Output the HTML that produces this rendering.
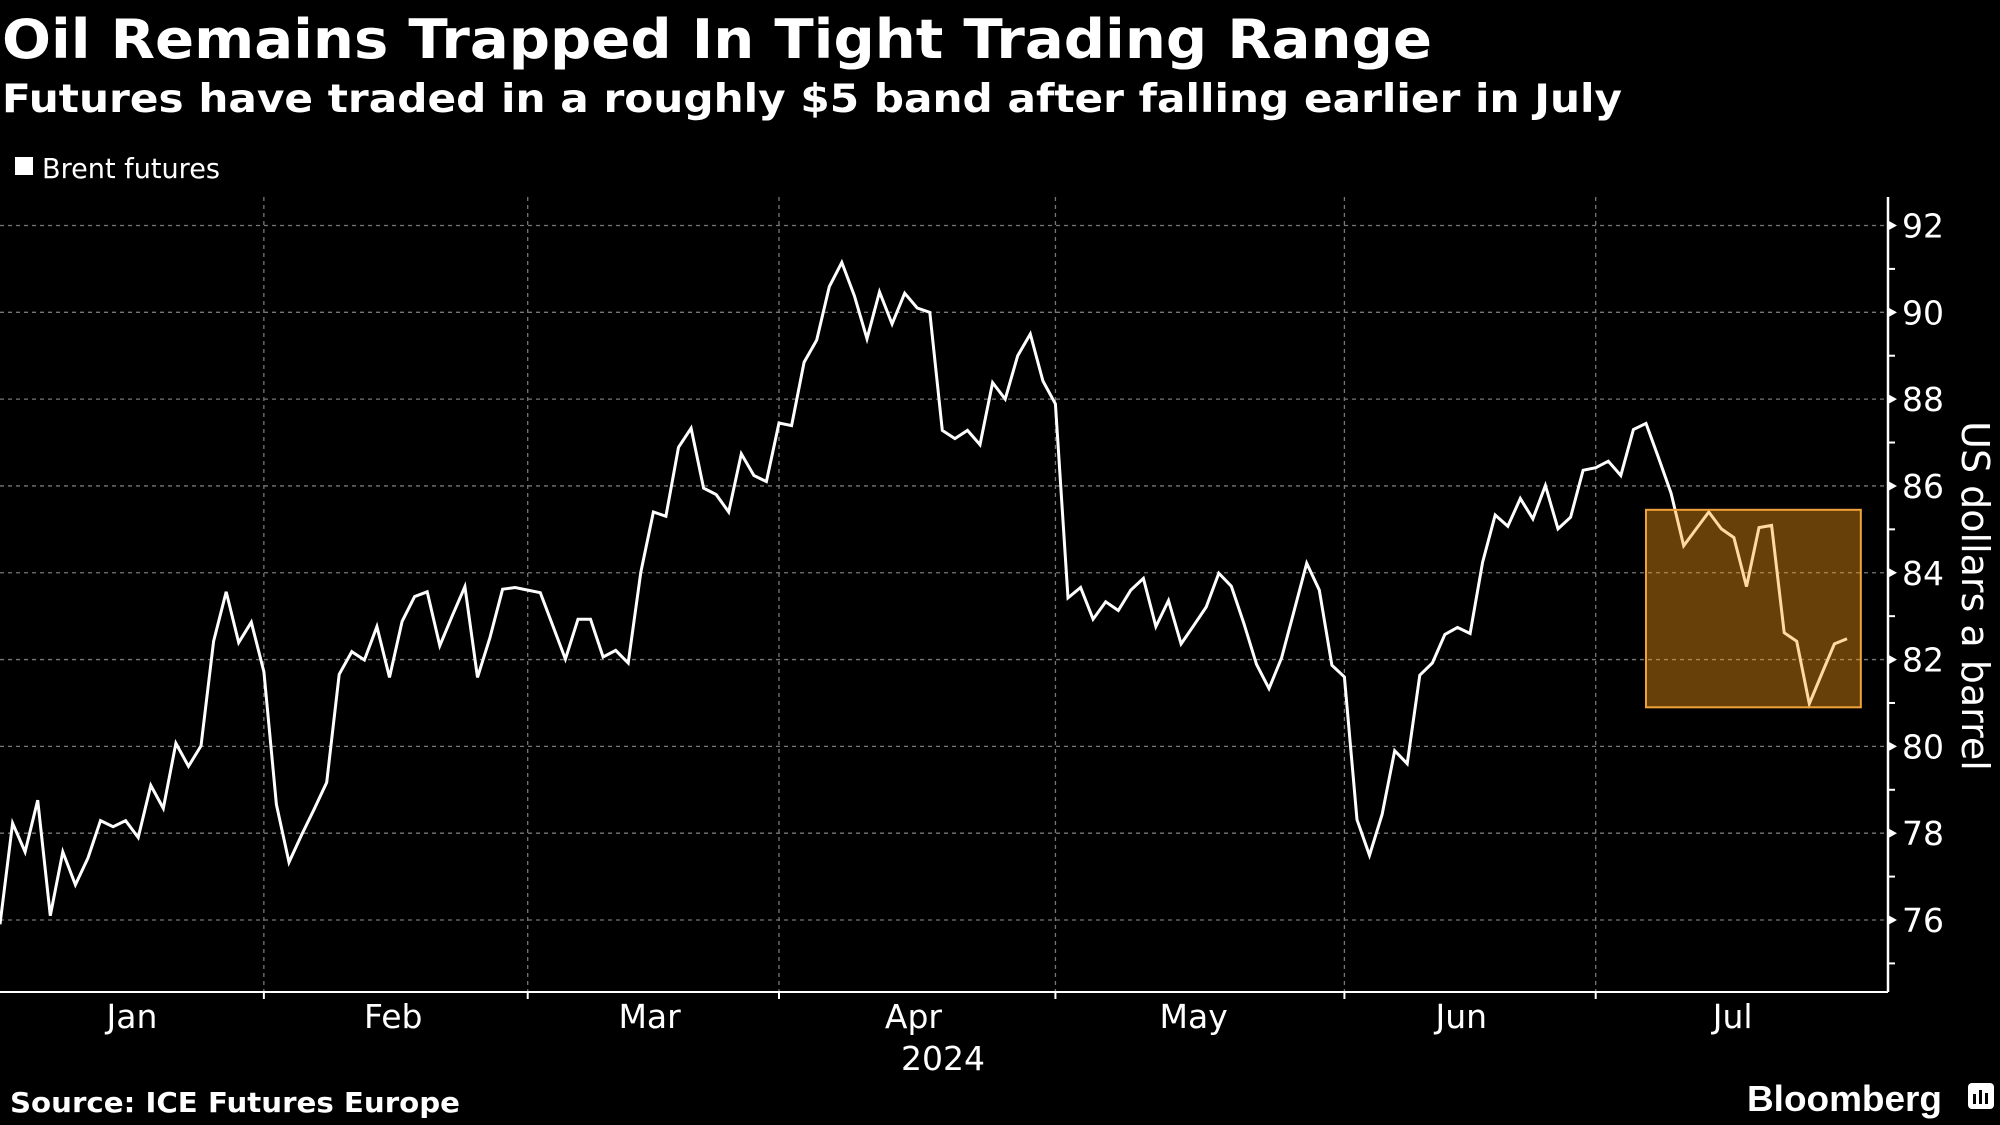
<!DOCTYPE html>
<html><head><meta charset="utf-8"><style>
html,body{margin:0;padding:0;background:#000;}
svg{display:block;}
</style></head><body>
<svg id="chart" width="2000" height="1125" viewBox="0 0 2000 1125" xmlns="http://www.w3.org/2000/svg" font-family="'DejaVu Sans','Liberation Sans',sans-serif">
<rect width="2000" height="1125" fill="#000"/>
<text x="2" y="58" fill="#fff" font-weight="bold" font-size="54" textLength="1430" lengthAdjust="spacingAndGlyphs">Oil Remains Trapped In Tight Trading Range</text>
<text x="2" y="112" fill="#fff" font-weight="bold" font-size="39" textLength="1620" lengthAdjust="spacingAndGlyphs">Futures have traded in a roughly $5 band after falling earlier in July</text>
<g>
<rect x="15" y="157" width="18" height="18" fill="#fff"/>
<text x="42" y="178" fill="#fff" font-size="28" textLength="178" lengthAdjust="spacingAndGlyphs">Brent futures</text>
</g>
<g id="grid"></g>
<g id="axes"></g>
<g id="series"></g>
<g id="annot"></g>
<text transform="translate(1962,596) rotate(90)" fill="#fff" font-size="38" text-anchor="middle">US dollars a barrel</text>
<text x="943" y="1070" fill="#fff" font-size="33" text-anchor="middle">2024</text>
<text x="10" y="1112" fill="#fff" font-weight="bold" font-size="28" textLength="450" lengthAdjust="spacingAndGlyphs">Source: ICE Futures Europe</text>
<text x="1747" y="1111" fill="#fff" font-weight="bold" font-size="36" textLength="195" lengthAdjust="spacingAndGlyphs" font-family="'Liberation Sans',sans-serif">Bloomberg</text>
<g>
<rect x="1968" y="1083" width="26" height="26" rx="4" fill="#fff"/>
<rect x="1973" y="1094" width="3" height="10" fill="#000"/>
<rect x="1979" y="1090" width="3" height="14" fill="#000"/>
<rect x="1985" y="1093" width="3" height="11" fill="#000"/>
</g>
</svg>
<script>
const values = [75.90,78.23,77.57,78.76,76.10,77.57,76.81,77.43,78.29,78.15,
78.29,77.90,79.10,78.57,80.07,79.54,80.01,82.42,83.56,82.39,
82.86,81.72,78.66,77.33,77.96,78.55,79.17,81.66,82.18,81.99,
82.76,81.59,82.88,83.45,83.56,82.32,83.01,83.68,81.59,82.51,
83.62,83.66,83.60,83.54,82.78,82.01,82.93,82.93,82.06,82.21,
81.92,84.01,85.40,85.30,86.89,87.33,
85.95,85.80,85.40,86.74,86.24,86.10,87.45,87.39,88.85,89.36,
90.59,91.15,90.38,89.39,90.47,89.73,90.44,90.10,90.00,87.28,
87.09,87.28,86.95,88.38,88.00,89.00,89.50,88.42,87.89,83.42,
83.66,82.93,83.33,83.13,83.60,83.87,82.76,83.36,82.36,82.78,
83.21,83.99,83.69,82.83,81.89,81.33,82.04,83.13,84.22,83.60,
81.87,81.60,
78.31,77.49,78.43,79.90,79.60,81.64,81.92,82.58,82.74,82.60,
84.24,85.33,85.07,85.71,85.24,86.01,85.01,85.28,86.36,86.42,
86.57,86.24,87.30,87.44,86.65,85.83,84.62,85.01,85.40,85.01,
84.81,83.68,85.04,85.09,82.62,82.42,80.98,81.68,82.36,82.48];
const months = ["Jan","Feb","Mar","Apr","May","Jun","Jul"];
const monthLabelPos = [10.5,31.3,51.7,72.7,95,116.3,137.9]; // in trading-day index units
const monthStartIdx = [21,42,62,84,107,127];
const yTicks = [76,78,80,82,84,86,88,90,92];
const highlightLow = 80.9, highlightHigh = 85.45;
const highlightStartIdx = 131, highlightEndIdx = 148.1;

const NS="http://www.w3.org/2000/svg";
const X0=0, X1=1847, AX=1888, AY=992, TOP=197;
const x = i => X0 + i*(X1-X0)/(values.length-1);
const y = v => 225.5 + (92-v)*(920-225.5)/16;
function mk(tag, attrs, parent){const e=document.createElementNS(NS,tag);for(const k in attrs)e.setAttribute(k,attrs[k]);parent.appendChild(e);return e;}
const grid=document.getElementById('grid'), axes=document.getElementById('axes'), series=document.getElementById('series'), annot=document.getElementById('annot');

yTicks.forEach(v=>{
  const g=mk('line',{x1:0,x2:AX,y1:y(v),y2:y(v),stroke:'#777','stroke-width':1.3,'stroke-dasharray':'4,4'},grid);
  
  
  const t=mk('path',{d:`M${AX} ${y(v)-5}L${AX+9} ${y(v)}L${AX} ${y(v)+5}Z`,fill:'#fff'},axes);
  
  
  const lb=mk('text',{x:1902,y:y(v)+12,fill:'#fff','font-size':33},axes);
  lb.textContent=v;
  
  
  if(v<92){const m=mk('line',{x1:AX,x2:AX+7,y1:y(v+1),y2:y(v+1),stroke:'#fff','stroke-width':2},axes);
  
  }
});
const mm=mk('line',{x1:AX,x2:AX+7,y1:y(75),y2:y(75),stroke:'#fff','stroke-width':2},axes);


monthStartIdx.forEach(i=>{
  const g=mk('line',{x1:x(i),x2:x(i),y1:TOP,y2:AY,stroke:'#777','stroke-width':1.3,'stroke-dasharray':'4,4'},grid);
  
  
  const t=mk('line',{x1:x(i),x2:x(i),y1:AY,y2:AY+7,stroke:'#fff','stroke-width':2},axes);
  
  
});
months.forEach((m,k)=>{
  const t=mk('text',{x:x(monthLabelPos[k]),y:1028,fill:'#fff','font-size':33,'text-anchor':'middle'},axes);
  t.textContent=m;
  
  
});
const xa=mk('line',{x1:0,x2:AX,y1:AY,y2:AY,stroke:'#fff','stroke-width':2},axes);


const ya=mk('line',{x1:AX,x2:AX,y1:TOP,y2:AY,stroke:'#fff','stroke-width':2.5},axes);



const pl=mk('polyline',{points:values.map((v,i)=>x(i).toFixed(1)+','+y(v).toFixed(1)).join(' '),fill:'none',stroke:'#fff','stroke-width':3,'stroke-linejoin':'miter'},series);



const hb=mk('rect',{x:x(highlightStartIdx),y:y(highlightHigh),width:x(highlightEndIdx)-x(highlightStartIdx),height:y(highlightLow)-y(highlightHigh),fill:'rgba(255,160,20,0.4)',stroke:'#f0a33a','stroke-width':2},annot);


</script>
</body></html>
